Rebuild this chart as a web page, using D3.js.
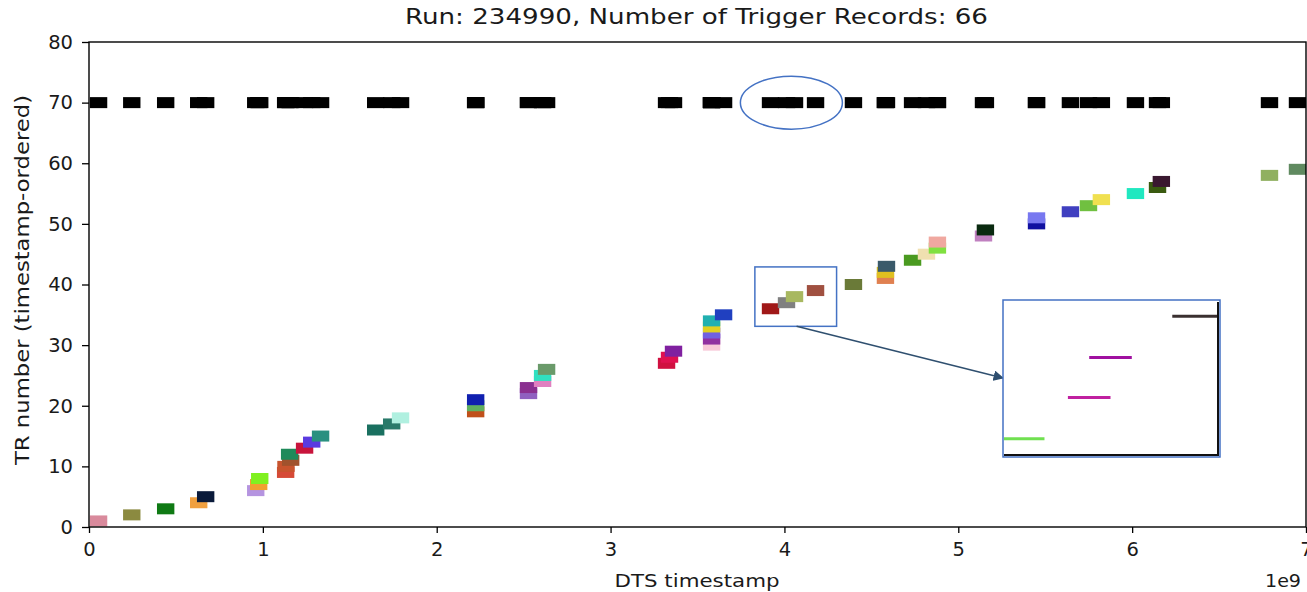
<!DOCTYPE html>
<html>
<head>
<meta charset="utf-8">
<script src="https://cdn.jsdelivr.net/npm/d3@7"></script>
<style>
  html, body { margin: 0; padding: 0; background: #fff; }
  svg { display: block; font-family: "DejaVu Sans", sans-serif; }
</style>
</head>
<body>
<svg id="chart" width="1307" height="592"></svg>
<script>
// ---- data ----
const title = "Run: 234990, Number of Trigger Records: 66";
const xLabel = "DTS timestamp";
const yLabel = "TR number (timestamp-ordered)";
const xTicks = [0, 1, 2, 3, 4, 5, 6, 7];
const yTicks = [0, 10, 20, 30, 40, 50, 60, 70, 80];
const markerLevel = 70; // all-records strip
// TR numbers
const trNumbers = [1,2,3,4,5,6,7,8,9,10,11,12,13,14,15,16,17,18,19,20,21,22,23,24,25,26,27,28,29,30,
  31,32,33,34,35,36,37,38,39,40,41,42,43,44,45,46,47,48,49,50,51,52,53,54,55,56,57,58,59];
// window start (units of 1e9 DTS ticks)
const trStart = [0.005,0.196,0.391,0.581,0.621,0.909,0.926,0.932,1.081,1.083,1.110,1.104,1.190,1.231,1.282,
  1.599,1.691,1.742,2.174,2.174,2.174,2.478,2.478,2.559,2.559,2.582,3.272,3.289,3.312,3.531,
  3.531,3.531,3.531,3.531,3.600,3.870,3.962,4.008,4.129,4.347,4.531,4.531,4.537,4.687,4.767,
  4.830,4.830,5.095,5.106,5.400,5.400,5.595,5.699,5.773,5.969,6.096,6.118,6.740,6.901];
const windowLength = 0.1; // 1e9 units
const trColors = ["#d98a9c","#8b8a40","#0f7a14","#f0a040","#0a1a3a","#b594e0","#f0a030","#80f020","#d64a36","#c8542e",
  "#a0522d","#1f8a5a","#c8143c","#5a3ae0","#2a9080","#1a7060","#2a7a6a","#b0f0e0","#c0501a","#60b060",
  "#1020b0","#9060c0","#8a3090","#e080c0","#30e0c0","#6a9a6a","#d01040","#e01050","#8020a0","#f8c8d8",
  "#9030a0","#7060e0","#e0d020","#20b0b0","#2040c0","#a01818","#808080","#a8b860","#a05040","#6a7a38",
  "#e08050","#e0c020","#3a5a6a","#4a9a20","#f0e0b0","#80e040","#f0a8a0","#c080c0","#0a2a10","#1010a0",
  "#7878f0","#4040c0","#70c040","#f0e050","#20e8c0","#3a5a10","#3a1830","#90b060","#608a60"];
// inset (zoomed detail) segments: [x0, x1, level] in inset units
const insetX0 = [0.0, 0.30, 0.40, 0.79];
const insetX1 = [0.19, 0.50, 0.60, 1.0];
const insetY = [0.1, 0.37, 0.63, 0.9];
const insetColors = ["#70e050","#c020a0","#a010a0","#3a3030"];

// ---- layout ----
const svg = d3.select("#chart");
const m = {left: 89, top: 42, right: 1306, bottom: 527};
const x = d3.scaleLinear().domain([0, 7]).range([m.left, m.right]);
const y = d3.scaleLinear().domain([0, 80]).range([m.bottom, m.top]);

svg.append("defs").append("clipPath").attr("id", "plotclip")
  .append("rect").attr("x", m.left).attr("y", m.top)
  .attr("width", m.right - m.left).attr("height", m.bottom - m.top);

const plot = svg.append("g").attr("clip-path", "url(#plotclip)");
const markH = 11;
const recs = trNumbers.map((n, i) => ({n, s: trStart[i], c: trColors[i]}));

// black strip at 70
plot.selectAll("rect.strip").data(recs).join("rect").attr("class", "strip")
  .attr("x", d => x(d.s)).attr("width", d => x(d.s + windowLength) - x(d.s))
  .attr("y", y(markerLevel) - markH / 2).attr("height", markH).attr("fill", "#000");

// colored records
plot.selectAll("rect.tr").data(recs).join("rect").attr("class", "tr")
  .attr("x", d => x(d.s)).attr("width", d => x(d.s + windowLength) - x(d.s))
  .attr("y", d => y(d.n) - markH / 2).attr("height", markH).attr("fill", d => d.c);

// axes
const fs = 19.5;
const xAxis = svg.append("g").attr("transform", `translate(0,${m.bottom})`)
  .call(d3.axisBottom(x).tickValues(xTicks).tickFormat(d3.format("d")).tickSize(6).tickPadding(9));
const yAxis = svg.append("g").attr("transform", `translate(${m.left},0)`)
  .call(d3.axisLeft(y).tickValues(yTicks).tickFormat(d3.format("d")).tickSize(7).tickPadding(9));
[xAxis, yAxis].forEach(a => {
  a.selectAll("text").attr("font-size", fs).attr("font-family", "DejaVu Sans").attr("fill", "#1a1a1a");
  a.selectAll("line").attr("stroke", "#000").attr("stroke-width", 1.3);
  a.select(".domain").remove();
});
// frame
svg.append("rect").attr("x", m.left).attr("y", m.top)
  .attr("width", m.right - m.left).attr("height", m.bottom - m.top)
  .attr("fill", "none").attr("stroke", "#000").attr("stroke-width", 1.4);

// labels
svg.append("text").attr("x", 696.5).attr("y", 24)
  .attr("text-anchor", "middle").attr("font-size", 22).attr("fill", "#1a1a1a")
  .attr("textLength", 583).attr("lengthAdjust", "spacingAndGlyphs").text(title);
svg.append("text").attr("x", 697).attr("y", 587)
  .attr("text-anchor", "middle").attr("font-size", 18.5).attr("fill", "#1a1a1a")
  .attr("textLength", 165).attr("lengthAdjust", "spacingAndGlyphs").text(xLabel);
svg.append("text").attr("transform", `translate(29,280) rotate(-90)`)
  .attr("text-anchor", "middle").attr("font-size", 19).attr("fill", "#1a1a1a")
  .attr("textLength", 370).attr("lengthAdjust", "spacingAndGlyphs").text(yLabel);
svg.append("text").attr("x", 1301).attr("y", 587)
  .attr("text-anchor", "end").attr("font-size", 18.5).attr("fill", "#1a1a1a")
  .attr("textLength", 36).attr("lengthAdjust", "spacingAndGlyphs").text("1e9");

// annotations: ellipse, zoom box, arrow, inset
const annColor = "#4472c4";
svg.append("ellipse").attr("cx", x(4.04)).attr("cy", y(70)).attr("rx", 51).attr("ry", 26.5)
  .attr("fill", "none").attr("stroke", annColor).attr("stroke-width", 1.5);
const zb = {x0: x(3.83), x1: x(4.3), y0: y(42.9), y1: y(33.1)};
svg.append("rect").attr("x", zb.x0).attr("y", zb.y0).attr("width", zb.x1 - zb.x0).attr("height", zb.y1 - zb.y0)
  .attr("fill", "none").attr("stroke", annColor).attr("stroke-width", 1.5);
svg.append("defs").append("marker").attr("id", "arr").attr("viewBox", "0 0 10 10")
  .attr("refX", 9).attr("refY", 5).attr("markerWidth", 7).attr("markerHeight", 7).attr("orient", "auto")
  .append("path").attr("d", "M0,0 L10,5 L0,10 z").attr("fill", "#2f4f6f");
const ib = {x0: 1003, x1: 1220, y0: 300, y1: 457};
svg.append("line").attr("x1", x(4.07)).attr("y1", zb.y1).attr("x2", ib.x0).attr("y2", 378)
  .attr("stroke", "#2f4f6f").attr("stroke-width", 1.5).attr("marker-end", "url(#arr)");
svg.append("rect").attr("x", ib.x0).attr("y", ib.y0).attr("width", ib.x1 - ib.x0).attr("height", ib.y1 - ib.y0)
  .attr("fill", "#fff").attr("stroke", annColor).attr("stroke-width", 1.5);
const ix = d3.scaleLinear().domain([0, 1]).range([ib.x0 + 1, ib.x1 - 3]);
const iy = d3.scaleLinear().domain([0, 1]).range([ib.y1 - 3, ib.y0 + 1]);
svg.append("line").attr("x1", ib.x1 - 2).attr("x2", ib.x1 - 2).attr("y1", ib.y0 + 2).attr("y2", ib.y1 - 1)
  .attr("stroke", "#111").attr("stroke-width", 2);
svg.append("line").attr("x1", ib.x0 + 1).attr("x2", ib.x1 - 1).attr("y1", ib.y1 - 2).attr("y2", ib.y1 - 2)
  .attr("stroke", "#111").attr("stroke-width", 2);
svg.selectAll("line.inset").data(insetX0.map((v, i) => i)).join("line").attr("class", "inset")
  .attr("x1", i => ix(insetX0[i])).attr("x2", i => ix(insetX1[i]))
  .attr("y1", i => iy(insetY[i])).attr("y2", i => iy(insetY[i]))
  .attr("stroke", i => insetColors[i]).attr("stroke-width", 3);
</script>
</body>
</html>
